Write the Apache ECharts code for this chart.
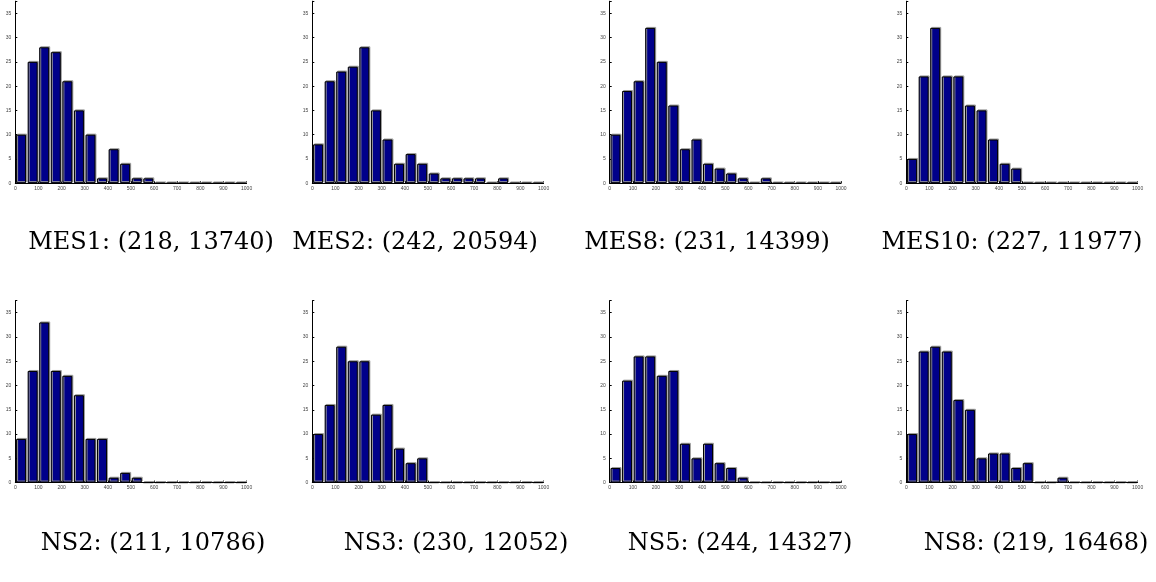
<!DOCTYPE html>
<html>
<head>
<meta charset="utf-8">
<script src="https://cdn.jsdelivr.net/npm/echarts@6/dist/echarts.min.js"></script>
<style>
  html, body { margin: 0; padding: 0; background: #fff; }
</style>
</head>
<body>
<div id="demo" style="width: 1156px; height: 582px"></div>
<script>
// bin centres (bins of width 50 from 0 to 1000)
const binCenters = [25, 75, 125, 175, 225, 275, 325, 375, 425, 475, 525, 575, 625, 675, 725, 775, 825, 875, 925, 975]
const xTicks = [0, 100, 200, 300, 400, 500, 600, 700, 800, 900, 1000]
const yTicks = [0, 5, 10, 15, 20, 25, 30, 35]

// counts per bin
const mes1 = [10, 25, 28, 27, 21, 15, 10, 1, 7, 4, 1, 1, 0, 0, 0, 0, 0, 0, 0, 0]
const mes2 = [8, 21, 23, 24, 28, 15, 9, 4, 6, 4, 2, 1, 1, 1, 1, 0, 1, 0, 0, 0]
const mes8 = [10, 19, 21, 32, 25, 16, 7, 9, 4, 3, 2, 1, 0, 1, 0, 0, 0, 0, 0, 0]
const mes10 = [5, 22, 32, 22, 22, 16, 15, 9, 4, 3, 0, 0, 0, 0, 0, 0, 0, 0, 0, 0]
const ns2 = [9, 23, 33, 23, 22, 18, 9, 9, 1, 2, 1, 0, 0, 0, 0, 0, 0, 0, 0, 0]
const ns3 = [10, 16, 28, 25, 25, 14, 16, 7, 4, 5, 0, 0, 0, 0, 0, 0, 0, 0, 0, 0]
const ns5 = [3, 21, 26, 26, 22, 23, 8, 5, 8, 4, 3, 1, 0, 0, 0, 0, 0, 0, 0, 0]
const ns8 = [10, 27, 28, 27, 17, 15, 5, 6, 6, 3, 4, 0, 0, 1, 0, 0, 0, 0, 0, 0]

const series = [mes1, mes2, mes8, mes10, ns2, ns3, ns5, ns8]
const captions = [
  'MES1: (218, 13740)', 'MES2: (242, 20594)', 'MES8: (231, 14399)', 'MES10: (227, 11977)',
  'NS2: (211, 10786)', 'NS3: (230, 12052)', 'NS5: (244, 14327)', 'NS8: (219, 16468)'
]

const chart = echarts.init(document.getElementById('demo'))

// panel layout
const gridLeft = [15.3, 312.3, 609.7, 906.3]
const gridTop = [1.2, 300.6]
const capX = [151, 415, 707, 1012, 153, 456, 740, 1036]
const capY = [243, 544]

const grids = []
const xAxes = []
const yAxes = []
const barSeries = []
const texts = []

series.forEach(function (vals, i) {
  const row = Math.floor(i / 4)
  const col = i % 4
  grids.push({ left: gridLeft[col], top: gridTop[row], width: 231.3, height: 182 })
  xAxes.push({
    type: 'value', gridIndex: i, min: 0, max: 1000, interval: 100,
    axisLine: { lineStyle: { color: '#000', width: 1 } },
    axisTick: { inside: true, length: 2, lineStyle: { color: '#000' } },
    axisLabel: { fontSize: 5, color: '#444', margin: 3, fontFamily: 'Liberation Sans',
      formatter: function (v) { return xTicks.indexOf(v) >= 0 ? String(v) : '' } },
    splitLine: { show: false }
  })
  yAxes.push({
    type: 'value', gridIndex: i, min: 0, max: 37.5, interval: 5,
    axisLine: { show: true, lineStyle: { color: '#000', width: 1 } },
    axisTick: { show: true, inside: true, length: 2, lineStyle: { color: '#000' } },
    axisLabel: { fontSize: 5, color: '#444', margin: 4, fontFamily: 'Liberation Sans',
      formatter: function (v) { return yTicks.indexOf(v) >= 0 ? String(v) : '' } },
    splitLine: { show: false }
  })
  barSeries.push({
    type: 'bar', xAxisIndex: i, yAxisIndex: i,
    data: binCenters.map(function (c, k) { return [c, vals[k]] }),
    barWidth: 10,
    itemStyle: {
      color: '#00008a', borderColor: '#000', borderWidth: 1,
      shadowColor: '#9a9a9a', shadowBlur: 0, shadowOffsetX: 1, shadowOffsetY: -1
    },
    silent: true
  })
  texts.push({
    type: 'text', x: capX[i], y: capY[row],
    style: { text: captions[i], fill: '#000', font: '24px "DejaVu Serif"', textAlign: 'center', textVerticalAlign: 'middle' }
  })
})

chart.setOption({
  animation: false,
  grid: grids,
  xAxis: xAxes,
  yAxis: yAxes,
  series: barSeries,
  graphic: texts
})
</script>
</body>
</html>
